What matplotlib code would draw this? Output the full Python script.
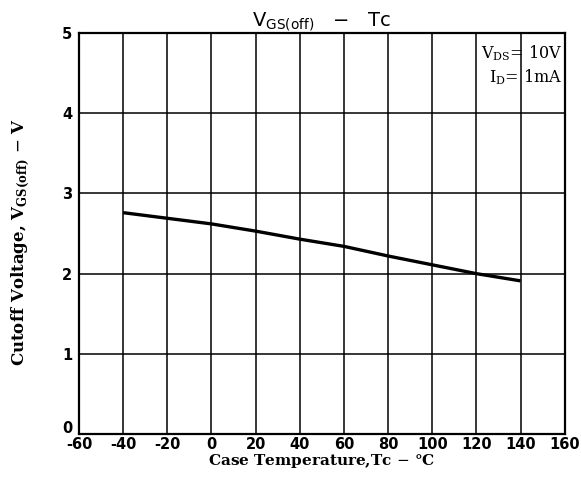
import matplotlib
matplotlib.use('Agg')
import matplotlib.pyplot as plt
import matplotlib.transforms as mtransforms

# V_GS(off) vs case temperature
temp_c = [-40, -20, 0, 20, 40, 60, 80, 100, 120, 140]
vgs_off = [2.76, 2.69, 2.62, 2.53, 2.43, 2.34, 2.22, 2.11, 2.00, 1.91]

x_ticks = [-60, -40, -20, 0, 20, 40, 60, 80, 100, 120, 140, 160]
x_labels = ['-60', '-40', '-20', '0', '20', '40', '60', '80', '100', '120', '140', '160']
y_ticks = [0, 1, 2, 3, 4, 5]

fig = plt.figure(figsize=(5.81, 4.84), dpi=100)
ax = fig.add_axes([0.136, 0.103, 0.836, 0.829])

ax.plot(temp_c, vgs_off, color='black', lw=2.4, solid_capstyle='butt')

ax.set_xlim(-60, 160)
ax.set_ylim(0, 5)
ax.set_xticks(x_ticks)
ax.set_xticklabels(x_labels)
ax.set_yticks(y_ticks)
ax.grid(True, color='black', lw=1.1)
ax.tick_params(length=0, labelsize=10.5)
ax.tick_params(axis='x', pad=2)
ax.tick_params(axis='y', pad=5)
for lab in ax.get_xticklabels() + ax.get_yticklabels():
    lab.set_fontweight('bold')
# the "0" sits a little above the corner in the original
zero_lab = ax.get_yticklabels()[0]
zero_lab.set_transform(zero_lab.get_transform() +
                       mtransforms.ScaledTranslation(0, 5 / 72, fig.dpi_scale_trans))
for s in ax.spines.values():
    s.set_linewidth(1.6)

ax.set_title(r'V$_{\mathregular{GS(off)}}$   $-$   Tc', fontsize=14, pad=3)
ax.set_xlabel('Case Temperature,Tc $-$ °C', fontfamily='DejaVu Serif',
              fontweight='bold', fontsize=11, labelpad=0)
ax.set_ylabel(r'Cutoff Voltage, V$_{\mathregular{GS(off)}}$ $-$ V', fontfamily='DejaVu Serif',
              fontweight='bold', fontsize=12)
ax.yaxis.set_label_coords(-0.098, 0.48)

ax.text(0.995, 0.975, r'V$_{\mathregular{DS}}$= 10V', transform=ax.transAxes,
        ha='right', va='top', fontfamily='DejaVu Serif', fontsize=11.5)
ax.text(0.995, 0.915, r'I$_{\mathregular{D}}$= 1mA', transform=ax.transAxes,
        ha='right', va='top', fontfamily='DejaVu Serif', fontsize=11.5)

fig.savefig('out.png', dpi=100, facecolor='white')
